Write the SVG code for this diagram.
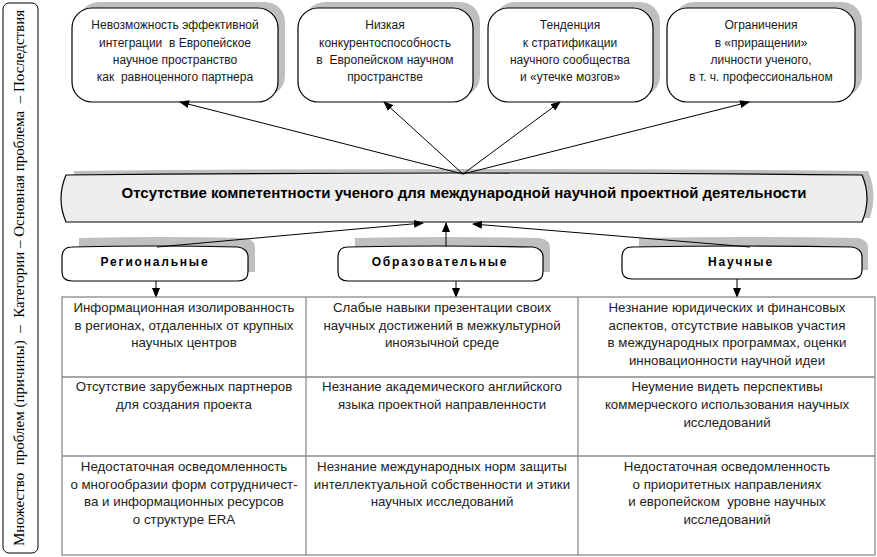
<svg xmlns="http://www.w3.org/2000/svg" width="877" height="557" viewBox="0 0 877 557">
<defs>
<marker id="ah" markerWidth="10" markerHeight="8" refX="9" refY="4" orient="auto" markerUnits="userSpaceOnUse">
<path d="M0,0 L10,4 L0,8 Z" fill="#000"/>
</marker>
</defs>
<style>
.sh{fill:#bfbfbf;stroke:none}
.box{fill:#fff;stroke:#000;stroke-width:1.2}
.bar{fill:#eeeeee;stroke:#000;stroke-width:1.2}
.t{font-family:"Liberation Sans",Arial,sans-serif;font-size:12px;fill:#1a1a1a;text-anchor:middle}
.tt{font-family:"Liberation Sans",Arial,sans-serif;font-size:13.3px;fill:#222;text-anchor:middle}
.main{font-family:"Liberation Sans",Arial,sans-serif;font-size:15px;font-weight:bold;fill:#000;text-anchor:middle}
.cat{font-family:"Liberation Sans",Arial,sans-serif;font-size:12px;font-weight:bold;fill:#000;text-anchor:middle;letter-spacing:1.8px}
.side{font-family:"Liberation Serif","Times New Roman",serif;font-size:15px;fill:#000;text-anchor:middle;white-space:pre}
.ln{stroke:#000;stroke-width:1;fill:none;marker-end:url(#ah)}
.grid{stroke:#8a8a8a;stroke-width:1.3;fill:none}
</style>

<g id="side-label">
<rect x="3" y="3" width="35" height="550" rx="6" fill="#fff" stroke="#000" stroke-width="1"/>
<text class="side" transform="translate(24,278) rotate(-90)" xml:space="preserve">Множество  проблем (причины)  –  Категории – Основная проблема  – Последствия</text>
</g>

<g id="consequence-1">
<rect class="sh" x="79" y="2" width="206" height="94" rx="20"/>
<rect class="box" x="72" y="8" width="206" height="94" rx="20"/>
<text class="t" x="175" y="29">Невозможность эффективной</text>
<text class="t" x="175" y="47" xml:space="preserve">интеграции  в Европейское</text>
<text class="t" x="175" y="64">научное пространство</text>
<text class="t" x="175" y="81" xml:space="preserve">как  равноценного партнера</text>
</g>

<g id="consequence-2">
<rect class="sh" x="305" y="2" width="175" height="94" rx="20"/>
<rect class="box" x="298" y="8" width="175" height="94" rx="20"/>
<text class="t" x="385" y="29">Низкая</text>
<text class="t" x="385" y="47">конкурентоспособность</text>
<text class="t" x="385" y="64" xml:space="preserve">в  Европейском научном</text>
<text class="t" x="385" y="81">пространстве</text>
</g>

<g id="consequence-3">
<rect class="sh" x="495" y="2" width="165" height="94" rx="20"/>
<rect class="box" x="488" y="8" width="165" height="94" rx="20"/>
<text class="t" x="570" y="29">Тенденция</text>
<text class="t" x="570" y="47">к стратификации</text>
<text class="t" x="570" y="64">научного сообщества</text>
<text class="t" x="570" y="81">и «утечке мозгов»</text>
</g>

<g id="consequence-4">
<rect class="sh" x="674" y="2" width="188" height="94" rx="20"/>
<rect class="box" x="667" y="8" width="188" height="94" rx="20"/>
<text class="t" x="761" y="29">Ограничения</text>
<text class="t" x="761" y="47">в «приращении»</text>
<text class="t" x="761" y="64">личности ученого,</text>
<text class="t" x="761" y="81">в т. ч. профессиональном</text>
</g>

<g id="main-problem">
<path class="sh" d="M74,171 Q470,167 868,171 Q878,194 870,218 L74,218 Z"/>
<path class="bar" d="M66,175 Q464,171 862,175 Q872,198 862,222 L66,222 Q56,199 66,175 Z"/>
<text class="main" x="464" y="198">Отсутствие компетентности ученого для международной научной проектной деятельности</text>
</g>

<g id="cat-regional">
<path class="sh" d="M79,238 Q160,236 245,238 Q256,240 255,250 L255,272 L79,272 Z"/>
<path class="box" d="M72,247 Q155,245 238,247 Q249,249 248,259 L248,272 Q248,281 238,281 L72,281 Q62,281 62,272 L62,257 Q62,247 72,247 Z"/>
<text class="cat" x="155" y="266">Региональные</text>
</g>

<g id="cat-educational">
<path class="sh" d="M355,238 Q445,236 540,238 Q551,240 550,250 L550,272 L355,272 Z"/>
<path class="box" d="M348,247 Q440,245 533,247 Q544,249 543,259 L543,272 Q543,281 533,281 L348,281 Q338,281 338,272 L338,257 Q338,247 348,247 Z"/>
<text class="cat" x="440" y="266">Образовательные</text>
</g>

<g id="cat-scientific">
<path class="sh" d="M639,238 Q745,236 858,238 Q869,240 868,250 L868,270 L639,270 Z"/>
<path class="box" d="M632,247 Q742,245 852,247 Q863,249 862,259 L862,270 Q862,279 852,279 L632,279 Q622,279 622,270 L622,257 Q622,247 632,247 Z"/>
<text class="cat" x="741" y="266">Научные</text>
</g>

<g id="connectors">
<line class="ln" x1="463" y1="174" x2="180" y2="102"/>
<line class="ln" x1="463" y1="174" x2="384" y2="102"/>
<line class="ln" x1="463" y1="174" x2="560" y2="102"/>
<line class="ln" x1="463" y1="174" x2="749" y2="102"/>
<line class="ln" x1="157" y1="247" x2="423" y2="223"/>
<line class="ln" x1="446" y1="247" x2="446" y2="223"/>
<line class="ln" x1="750" y1="247" x2="473" y2="224"/>
<line class="ln" x1="156" y1="281" x2="156" y2="297"/>
<line class="ln" x1="456" y1="281" x2="456" y2="297"/>
<line class="ln" x1="737" y1="279" x2="737" y2="297"/>
</g>

<g id="table">
<rect class="grid" x="62" y="297" width="813" height="258"/>
<line class="grid" x1="306" y1="297" x2="306" y2="555"/>
<line class="grid" x1="578" y1="297" x2="578" y2="555"/>
<line class="grid" x1="62" y1="377" x2="875" y2="377"/>
<line class="grid" x1="62" y1="456" x2="875" y2="456"/>
</g>

<g id="cell-r1c1">
<text class="tt" x="184" y="312">Информационная изолированность</text>
<text class="tt" x="184" y="330">в регионах, отдаленных от крупных</text>
<text class="tt" x="184" y="347">научных центров</text>
</g>
<g id="cell-r1c2">
<text class="tt" x="442" y="312">Слабые навыки презентации своих</text>
<text class="tt" x="442" y="330">научных достижений в межкультурной</text>
<text class="tt" x="442" y="347">иноязычной среде</text>
</g>
<g id="cell-r1c3">
<text class="tt" x="727" y="312">Незнание юридических и финансовых</text>
<text class="tt" x="727" y="330">аспектов, отсутствие навыков участия</text>
<text class="tt" x="727" y="347">в международных программах, оценки</text>
<text class="tt" x="727" y="365">инновационности научной идеи</text>
</g>
<g id="cell-r2c1">
<text class="tt" x="184" y="391">Отсутствие зарубежных партнеров</text>
<text class="tt" x="184" y="409">для создания проекта</text>
</g>
<g id="cell-r2c2">
<text class="tt" x="442" y="391">Незнание академического английского</text>
<text class="tt" x="442" y="409">языка проектной направленности</text>
</g>
<g id="cell-r2c3">
<text class="tt" x="727" y="391">Неумение видеть перспективы</text>
<text class="tt" x="727" y="409">коммерческого использования научных</text>
<text class="tt" x="727" y="427">исследований</text>
</g>
<g id="cell-r3c1">
<text class="tt" x="184" y="471">Недостаточная осведомленность</text>
<text class="tt" x="184" y="489">о многообразии форм сотрудничест-</text>
<text class="tt" x="184" y="506">ва и информационных ресурсов</text>
<text class="tt" x="184" y="524">о структуре ERA</text>
</g>
<g id="cell-r3c2">
<text class="tt" x="442" y="471">Незнание международных норм защиты</text>
<text class="tt" x="442" y="489">интеллектуальной собственности и этики</text>
<text class="tt" x="442" y="506">научных исследований</text>
</g>
<g id="cell-r3c3">
<text class="tt" x="727" y="471">Недостаточная осведомленность</text>
<text class="tt" x="727" y="489">о приоритетных направлениях</text>
<text class="tt" x="727" y="506" xml:space="preserve">и европейском  уровне научных</text>
<text class="tt" x="727" y="524">исследований</text>
</g>
</svg>
